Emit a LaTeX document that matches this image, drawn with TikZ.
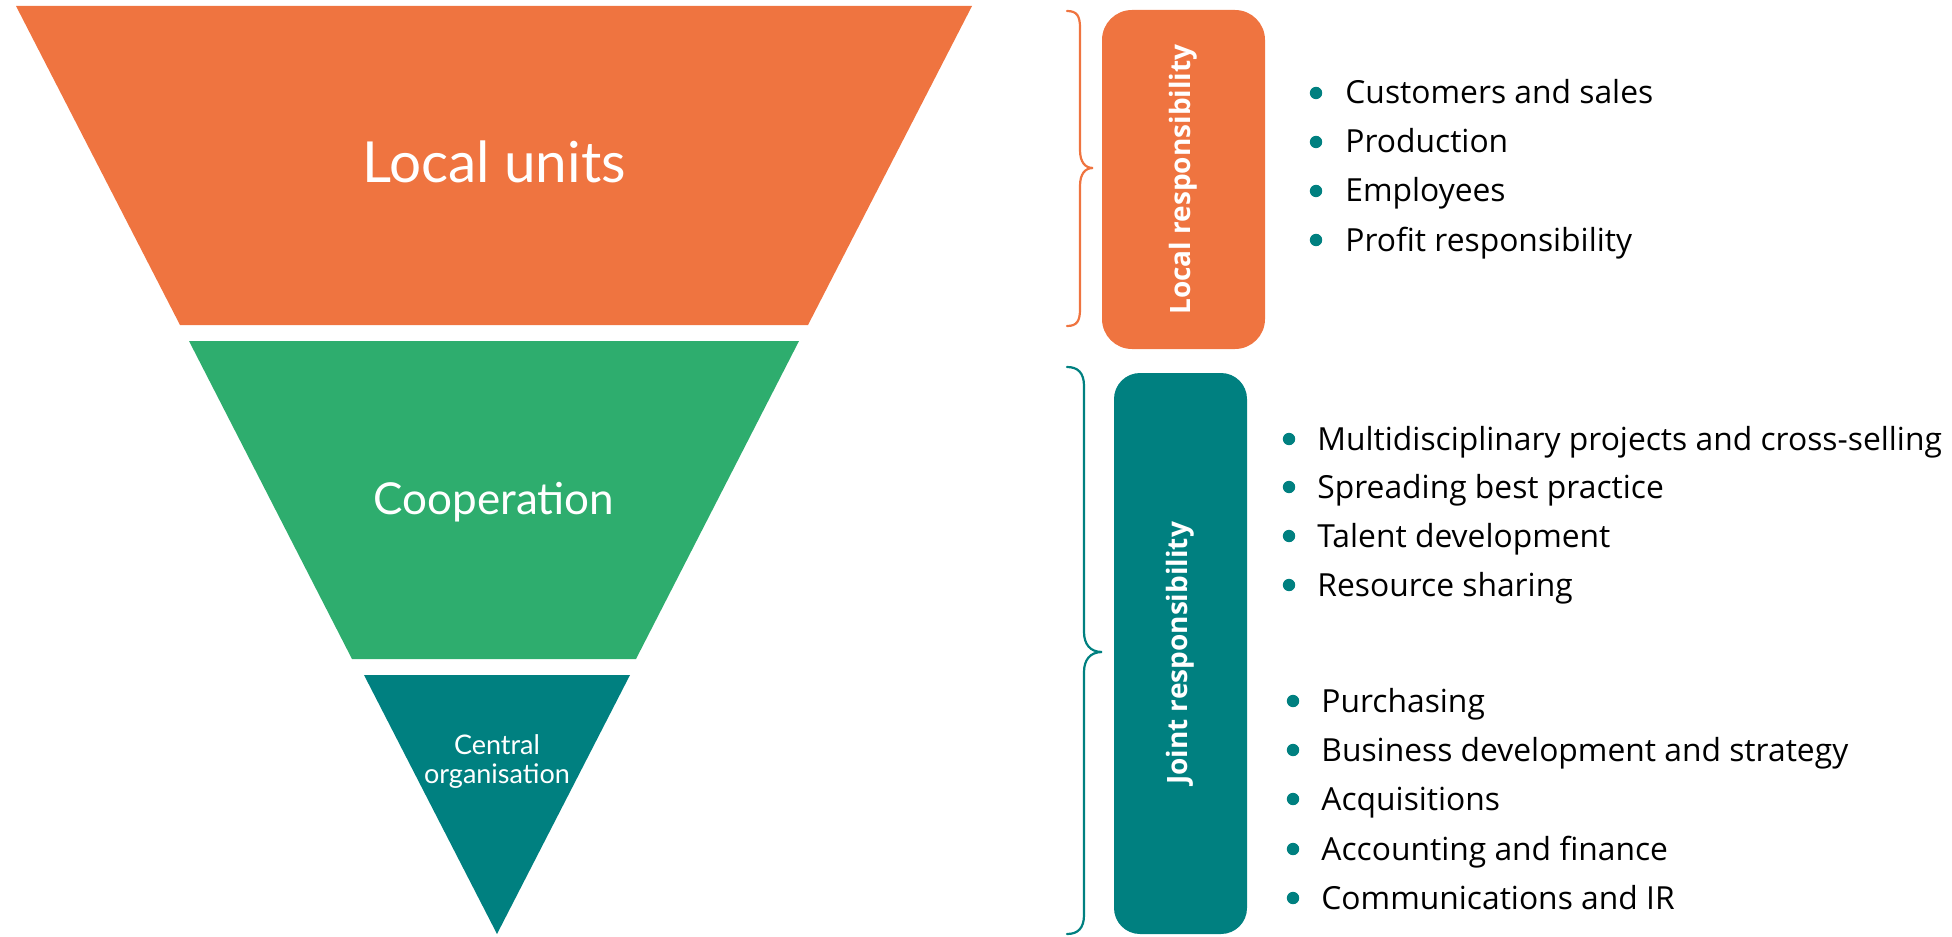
\documentclass[tikz,border=0pt]{standalone}
\usepackage{fontspec}
\setmainfont{Open Sans}
\newfontfamily\trifont{Lato}
\usetikzlibrary{positioning}
\definecolor{orng}{HTML}{EF7440}
\definecolor{grn}{HTML}{2EAD6E}
\definecolor{tl}{HTML}{008080}

\begin{document}
\begin{tikzpicture}[x=0.5pt,y=-0.5pt,
    lvl/.style={text=white,inner sep=0pt},
    respbox/.style={rotate=90,text=white,inner sep=0pt,
      font=\bfseries\fontsize{14}{16}\selectfont},
    dot/.style={circle,fill=tl,inner sep=0pt,minimum size=6.2pt},
    item/.style={anchor=base west,inner sep=0pt,
      font=\fontsize{15.9}{18}\selectfont},
    brace/.style={line width=1.1pt,line cap=round}]
        \useasboundingbox (0,0) rectangle (1952,936);
        % inverted pyramid
        \coordinate (A1) at (16,6);
        \coordinate (A2) at (972,6);
        \coordinate (A3) at (808,325);
        \coordinate (A4) at (180,325);
        \fill[orng] (A1)--(A2)--(A3)--(A4)--cycle;
        \coordinate (B1) at (189,341);
        \coordinate (B2) at (799,341);
        \coordinate (B3) at (636,659);
        \coordinate (B4) at (352,659);
        \fill[grn] (B1)--(B2)--(B3)--(B4)--cycle;
        \coordinate (C1) at (364,675);
        \coordinate (C2) at (630,675);
        \coordinate (C3) at (497,934);
        \fill[tl] (C1)--(C2)--(C3)--cycle;
        \node[lvl,anchor=base,font=\trifont\fontsize{28.3}{30}\selectfont] (lu) at (494,183) {Local units};
        \node[lvl,anchor=base,font=\trifont\fontsize{22}{24}\selectfont] (co) at (494,514) {Cooperation};
        \node[lvl,align=center,font=\trifont\fontsize{13.5}{14.5}\selectfont] (ce) at (497,762) {Central\\organisation};

        % braces
        \draw[brace,orng] (1067,11) .. controls (1077,11) and (1080,16) .. (1080,28)
            -- (1080,150) .. controls (1080,162) and (1085,168) .. (1093,168)
            .. controls (1085,168) and (1080,174) .. (1080,186)
            -- (1080,309) .. controls (1080,321) and (1077,326) .. (1067,326);
        \draw[brace,tl] (1067,367) .. controls (1078,367) and (1084,373) .. (1084,386)
            -- (1084,632) .. controls (1084,644) and (1090,652) .. (1102,652)
            .. controls (1090,652) and (1084,660) .. (1084,672)
            -- (1084,915) .. controls (1084,928) and (1078,934) .. (1067,934);

        % responsibility boxes
        \node[respbox,fill=orng,rounded corners=15pt,minimum width=169.5pt,minimum height=81.5pt] (lr) at (1183.5,179.5) {Local responsibility};
        \node[respbox,fill=tl,rounded corners=13pt,minimum width=280.5pt,minimum height=66.5pt] (jr) at (1180.5,653.5) {Joint responsibility};

        % local list
        \node[dot] (d1) at (1316,93) {};
        \node[item] (t1) at (1345,104) {Customers and sales};
        \node[dot] (d2) at (1316,142) {};
        \node[item] (t2) at (1345,153) {Production};
        \node[dot] (d3) at (1316,191) {};
        \node[item] (t3) at (1345,202) {Employees};
        \node[dot] (d4) at (1316,240) {};
        \node[item] (t4) at (1345,251) {Profit responsibility};

        % joint list
        \node[dot] (d5) at (1289,439) {};
        \node[item] (t5) at (1317,450) {Multidisciplinary projects and cross-selling};
        \node[dot] (d6) at (1289,487) {};
        \node[item] (t6) at (1317,498) {Spreading best practice};
        \node[dot] (d7) at (1289,536) {};
        \node[item] (t7) at (1317,547) {Talent development};
        \node[dot] (d8) at (1289,585) {};
        \node[item] (t8) at (1317,596) {Resource sharing};

        \node[dot] (d9) at (1293,701) {};
        \node[item] (t9) at (1321,712) {Purchasing};
        \node[dot] (d10) at (1293,750) {};
        \node[item] (t10) at (1321,761) {Business development and strategy};
        \node[dot] (d11) at (1293,799) {};
        \node[item] (t11) at (1321,810) {Acquisitions};
        \node[dot] (d12) at (1293,849) {};
        \node[item] (t12) at (1321,860) {Accounting and finance};
        \node[dot] (d13) at (1293,898) {};
        \node[item] (t13) at (1321,909) {Communications and IR};
\end{tikzpicture}
\end{document}
